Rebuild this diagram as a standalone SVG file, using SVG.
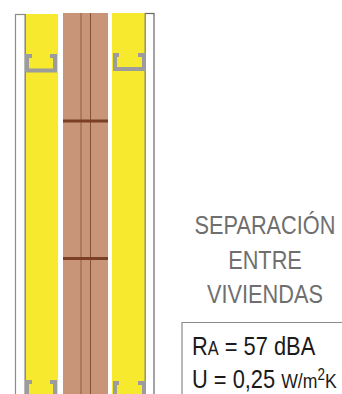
<svg xmlns="http://www.w3.org/2000/svg" width="342" height="394" viewBox="0 0 342 394">
<style>
.ch{fill:none;stroke:#9c9c9c;stroke-width:4}
.t{font-family:"Liberation Sans",Arial,sans-serif}
.h{font-size:26.500px;fill:#6f6f6f;text-anchor:middle}
.v{font-size:26px;fill:#1a1a1a}
.s{font-size:19.500px}
.u{font-size:21px}
</style>
<rect width="342" height="394" fill="#fff"/>
<g id="wall">
<rect x="15.500" y="14.500" width="9.500" height="385" fill="#fff" stroke="#8c8c8c" stroke-width="1.200"/>
<rect x="145" y="13.500" width="9" height="386" fill="#fff" stroke="#666" stroke-width="1.200"/>
<rect x="25.500" y="14" width="32.500" height="380" fill="#f7e92e"/>
<rect x="112" y="13" width="33" height="381" fill="#f7e92e"/>
<rect x="25" y="14" width="1" height="380" fill="#8f8f6a"/>
<rect x="144.500" y="13" width="1.200" height="381" fill="#8f8f6a"/>
<rect x="63" y="13" width="45" height="381" fill="#c99578"/>
<rect x="80" y="13" width="2" height="381" fill="#a97a5f"/>
<rect x="90" y="13" width="1" height="381" fill="#84503a"/>
<rect x="63" y="119.500" width="45" height="3" fill="#7a3f24"/>
<rect x="63" y="257" width="45" height="3" fill="#7a3f24"/>
<path class="ch" d="M32 56H27V70.500H55V56H50"/>
<path class="ch" d="M119 55H115V69H144V55H138"/>
<path class="ch" d="M32 382H27V396M55 396V382H50"/>
<path class="ch" d="M119 383H115V396M144 396V383H138"/>
</g>
<g id="title">
<text class="t h" transform="translate(265 233.500) scale(.82 1)">SEPARACIÓN</text>
<text class="t h" transform="translate(265 268.500) scale(.82 1)">ENTRE</text>
<text class="t h" transform="translate(265 303) scale(.82 1)">VIVIENDAS</text>
</g>
<g id="values">
<path d="M182 394V322.500H342" fill="none" stroke="#8a8a8a" stroke-width="1.200"/>
<text class="t v" transform="translate(192 355) scale(.84 1)">R<tspan class="s">A</tspan> = 57 dBA</text>
<text class="t v" transform="translate(192 387.500) scale(.84 1)">U = 0,25 <tspan class="u">W/m</tspan><tspan font-size="16" dy="-8">2</tspan><tspan class="u" dy="8">K</tspan></text>
</g>
</svg>
